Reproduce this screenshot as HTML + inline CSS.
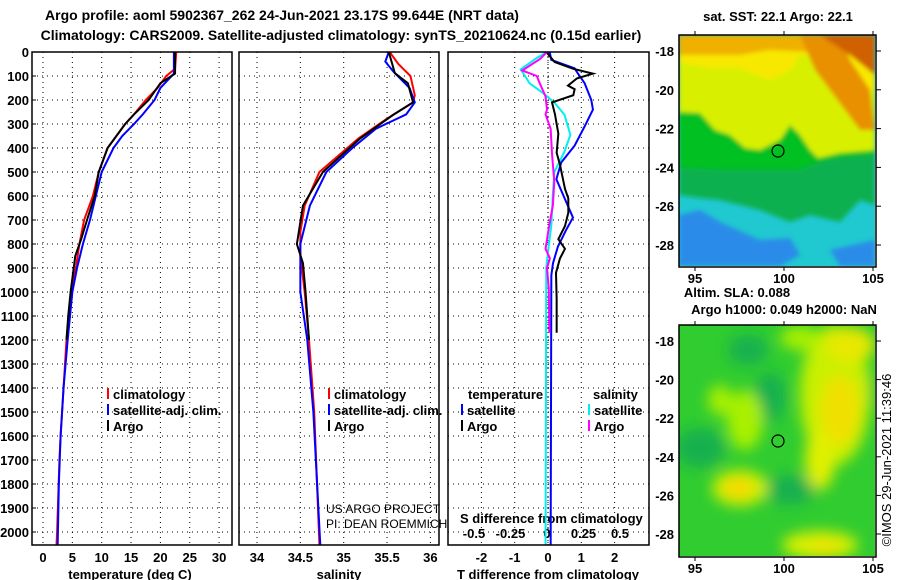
<!DOCTYPE html>
<html><head><meta charset="utf-8"><style>
body{margin:0;background:#fff;}
svg{display:block;font-family:"Liberation Sans",sans-serif;}
.t{font-size:14px;font-weight:bold;}
.tk{font-size:13px;font-weight:bold;}
.lg{font-size:13px;font-weight:bold;}
</style></head><body>
<svg id="fig" width="900" height="580" viewBox="0 0 900 580">
<text class="t" x="282" y="20" text-anchor="middle">Argo profile: aoml 5902367_262 24-Jun-2021 23.17S 99.644E (NRT data)</text>
<text class="t" x="341" y="40" text-anchor="middle">Climatology: CARS2009. Satellite-adjusted climatology: synTS_20210624.nc (0.15d earlier)</text>
<g id="p1"></g>
<g id="p2"></g>
<g id="p3"></g>

<g>
<defs><clipPath id="c1"><rect x="679" y="35" width="196" height="231"/></clipPath>
<clipPath id="c2"><rect x="679" y="325" width="196" height="231"/></clipPath>
<filter id="bl"><feGaussianBlur stdDeviation="7"/></filter>
<filter id="bs"><feGaussianBlur stdDeviation="2"/></filter></defs>
<g clip-path="url(#c1)">
<rect x="679" y="35" width="196" height="231" fill="#20c8d0"/>
<g filter="url(#bs)">
<polygon points="679,215 700,210 720,222 760,240 790,238 800,255 780,266 679,266" fill="#2a8ce8"/>
<polygon points="830,250 875,240 875,266 840,266" fill="#2a8ce8"/>
<polygon points="679,35 875,35 875,205 860,200 840,222 810,215 790,222 760,210 720,200 700,198 679,195" fill="#10b050"/>
<polygon points="679,35 875,35 875,155 840,158 820,162 800,170 760,170 720,170 679,168" fill="#00c020"/>
<polygon points="679,35 875,35 875,150 840,153 818,158 810,150 800,135 790,125 780,140 760,150 745,148 730,135 715,130 700,113 679,112" fill="#d8f000"/>
<polygon points="679,35 875,35 875,92 850,88 830,70 815,55 800,55 790,70 770,80 740,68 710,68 679,62" fill="#f8e800"/>
<polygon points="679,35 875,35 875,50 850,52 830,50 810,52 770,50 740,55 679,55" fill="#f0b000"/>
<polygon points="800,35 840,35 850,60 870,90 875,130 860,130 845,110 830,90 815,70" fill="#e89000"/>
<polygon points="820,35 875,35 875,75 850,55" fill="#d06000"/>
</g>
</g>
<circle cx="778" cy="151" r="6" fill="none" stroke="#000" stroke-width="1.2"/>
<rect x="679" y="35" width="197" height="232" fill="none" stroke="#000" stroke-width="1.5"/>
</g>
<text class="tk" x="778" y="21" text-anchor="middle">sat. SST: 22.1 Argo: 22.1</text>
<text class="tk" x="737" y="297" text-anchor="middle">Altim. SLA: 0.088</text>
<text class="tk" x="784" y="314" text-anchor="middle">Argo h1000: 0.049 h2000: NaN</text>

<g>
<g clip-path="url(#c2)">
<rect x="679" y="325" width="196" height="231" fill="#30cc30"/>
<g filter="url(#bl)">
<ellipse cx="700" cy="448" rx="25" ry="20" fill="#18b050"/>
<ellipse cx="770" cy="397" rx="16" ry="25" fill="#18b050"/>
<ellipse cx="748" cy="350" rx="20" ry="15" fill="#18b050"/>
<ellipse cx="790" cy="490" rx="25" ry="15" fill="#18b050"/>
<ellipse cx="868" cy="390" rx="12" ry="18" fill="#10c030"/>
<ellipse cx="745" cy="420" rx="18" ry="30" fill="#a8f000"/>
<ellipse cx="720" cy="400" rx="12" ry="15" fill="#a8f000"/>
<ellipse cx="835" cy="395" rx="35" ry="70" fill="#c8f000"/>
<ellipse cx="840" cy="410" rx="20" ry="35" fill="#f0e000"/>
<ellipse cx="850" cy="345" rx="25" ry="18" fill="#e8e800"/>
<ellipse cx="820" cy="460" rx="15" ry="30" fill="#e0f000"/>
<ellipse cx="740" cy="488" rx="28" ry="18" fill="#d0f000"/>
<ellipse cx="738" cy="488" rx="15" ry="10" fill="#f8d800"/>
<ellipse cx="820" cy="545" rx="38" ry="14" fill="#d8f000"/>
<ellipse cx="825" cy="548" rx="15" ry="7" fill="#f0e000"/>
<ellipse cx="800" cy="338" rx="20" ry="12" fill="#a8f000"/>
</g>
</g>
<circle cx="778" cy="441" r="6" fill="#30cc30" stroke="#000" stroke-width="1.2"/>
<rect x="679" y="325" width="197" height="232" fill="none" stroke="#000" stroke-width="1.5"/>
</g>
<text x="893" y="460" font-size="13" text-anchor="middle" transform="rotate(-90 893 460)" dy="-2">©IMOS 29-Jun-2021 11:39:46</text>
<g id="maplabels"></g>
</svg>
<script>
const tArgoDepth=[0,90,130,200,260,300,350,400,500,600,700,780,850,1000,1100,1200];
const tArgoVal=[22.5,22.5,20,18,15.5,14,12.5,11,9.5,8.8,7.5,6.5,5.5,4.7,4.3,4.0];
const tClimDepth=[0,70,100,150,200,260,300,400,500,600,700,800,900,1000,1200,1400,1600,1700,2000,2054];
const tClimVal=[22.7,22.5,21,19.5,17.5,15.5,14,11,9.5,8.5,7,6.2,5.6,4.8,4.0,3.5,3.0,2.8,2.4,2.3];
const tSatDepth=[0,90,150,200,260,300,350,400,500,600,700,800,900,1000,1200,1400,1600,1800,2054];
const tSatVal=[22.3,22.3,20,19,17,15.5,13.5,12,10,9,8,6.8,5.8,5.0,4.2,3.5,3.0,2.7,2.5];
const sArgoDepth=[0,88,130,210,262,360,500,640,800,880,1000,1200];
const sArgoVal=[35.52,35.59,35.74,35.80,35.57,35.19,34.76,34.53,34.46,34.53,34.56,34.6];
const sClimDepth=[0,50,100,180,210,280,360,500,640,750,850,1000,1200,1500,2054];
const sClimVal=[35.53,35.63,35.77,35.82,35.80,35.49,35.17,34.72,34.55,34.5,34.5,34.55,34.6,34.66,34.72];
const sSatDepth=[0,40,80,150,210,260,320,400,500,640,800,1000,1200,1500,2054];
const sSatVal=[35.52,35.48,35.57,35.76,35.82,35.72,35.37,35.10,34.80,34.61,34.5,34.5,34.58,34.65,34.73];
const dtArgoDepth=[0,42,70,90,110,140,155,180,210,260,340,420,470,570,610,670,725,780,820,860,920,1030,1140,1170];
const dtArgoVal=[-0.05,0.2,0.76,1.35,0.87,0.6,0.8,0.76,0.12,0.21,0.31,0.26,0.36,0.51,0.61,0.61,0.51,0.31,0.51,0.36,0.24,0.26,0.26,0.26];
const dtSatDepth=[0,33,68,90,130,200,240,310,390,460,530,610,690,740,810,880,930,2054];
const dtSatVal=[0.05,0.1,0.8,0.9,1.1,1.3,1.35,1.1,0.8,0.4,0.25,0.5,0.75,0.55,0.3,0.15,0.1,0.08];
const dsSatDepth=[0,25,72,130,170,210,262,345,415,500,595,720,830,900,2054];
const dsSatVal=[0,-0.07,-0.18,-0.12,-0.03,0.05,0.12,0.16,0.12,0.05,0.04,0.03,0.007,-0.005,-0.01];
const dsArgoDepth=[0,30,77,100,130,185,240,260,320,430,540,640,720,820,860,900,985,1150,1170];
const dsArgoVal=[0,-0.05,-0.17,-0.07,-0.05,-0.01,0,-0.01,0.025,0.035,0.05,0.04,0.016,-0.01,0.02,0,0.012,0.016,0.016];
const depthTicks=[0,100,200,300,400,500,600,700,800,900,1000,1100,1200,1300,1400,1500,1600,1700,1800,1900,2000];
const tTicks=[0,5,10,15,20,25,30];
const sTicks=[34,34.5,35,35.5,36];
const dtTicks=[-2,-1,0,1,2];
const dsTicks=[-0.5,-0.25,0,0.25,0.5];
const lonTicks=[95,100,105];
const latTicks=[-18,-20,-22,-24,-26,-28];

const NS="http://www.w3.org/2000/svg";
const Y=d=>52+0.24*d;
const XT=v=>43+5.87*v, XS=v=>257+86.7*(v-34), XDT=v=>548+33.3*v, XDS=v=>547+146*v;
function el(p,tag,at,txt){const e=document.createElementNS(NS,tag);for(const k in at)e.setAttribute(k,at[k]);if(txt!=null)e.textContent=txt;p.appendChild(e);return e;}
function panel(g,x0,x1,xs,xt,xf){
  depthTicks.forEach(d=>{if(d>0)el(g,'line',{x1:x0,x2:x1,y1:Y(d),y2:Y(d),stroke:'#000','stroke-dasharray':'1 4'});});
  xt.forEach(v=>{el(g,'line',{x1:xf(v),x2:xf(v),y1:52,y2:545,stroke:'#000','stroke-dasharray':'1 4'});});
}
function line(g,xs,ds,fx,col,name){
  const l=el(g,'polyline',{points:ds.map((d,i)=>fx(xs[i])+','+Y(d)).join(' '),fill:'none',stroke:col,'stroke-width':2});
  
  
}
function frame(g,x0,x1){el(g,'rect',{x:x0,y:52,width:x1-x0,height:493,fill:'none',stroke:'#000','stroke-width':1.5});}
function lbl(g,x,y,t,cls,anchor,name){const e=el(g,'text',{x:x,y:y,class:cls,'text-anchor':anchor||'start'},t);
  
  return e;}
function leg(g,x,y,col,t,name){el(g,'rect',{x:x-1,y:y-11,width:2,height:11,fill:col});lbl(g,x+5,y,t,'lg','start',name);}

const p1=document.getElementById('p1'),p2=document.getElementById('p2'),p3=document.getElementById('p3');
panel(p1,32,232,null,tTicks,XT);
depthTicks.forEach(d=>{lbl(p1,29,Y(d)+5,String(d),'tk','end','depth-tick-label');el(p1,'line',{x1:32,x2:36,y1:Y(d),y2:Y(d),stroke:'#000'});});
tTicks.forEach(v=>lbl(p1,XT(v),562,String(v),'tk','middle','temperature-tick-label'));
lbl(p1,130,579,'temperature (deg C)','tk','middle','temperature-axis-title');
line(p1,tClimVal,tClimDepth,XT,'#f00','climatology-temperature-line');
line(p1,tSatVal,tSatDepth,XT,'#00f','satellite-temperature-line');
line(p1,tArgoVal,tArgoDepth,XT,'#000','argo-temperature-line');
frame(p1,32,232);
leg(p1,108,399,'#f00','climatology','legend-climatology');
leg(p1,108,415,'#00f','satellite-adj. clim.','legend-satellite');
leg(p1,108,431,'#000','Argo','legend-argo');

panel(p2,239,439,null,sTicks,XS);
sTicks.forEach(v=>lbl(p2,XS(v),562,String(v),'tk','middle','salinity-tick-label'));
lbl(p2,339,579,'salinity','tk','middle','salinity-axis-title');
line(p2,sClimVal,sClimDepth,XS,'#f00','climatology-salinity-line');
line(p2,sSatVal,sSatDepth,XS,'#00f','satellite-salinity-line');
line(p2,sArgoVal,sArgoDepth,XS,'#000','argo-salinity-line');
frame(p2,239,439);
leg(p2,329,399,'#f00','climatology','legend-climatology');
leg(p2,329,415,'#00f','satellite-adj. clim.','legend-satellite');
leg(p2,329,431,'#000','Argo','legend-argo');
el(p2,'text',{x:326,y:513,'font-size':12},'US ARGO PROJECT');
el(p2,'text',{x:326,y:528,'font-size':12},'PI: DEAN ROEMMICH');

panel(p3,448,649,null,dtTicks,XDT);
dtTicks.forEach(v=>lbl(p3,XDT(v),562,String(v),'tk','middle','t-diff-tick-label'));
dsTicks.forEach(v=>lbl(p3,XDS(v),538,String(v),'tk','middle','s-diff-tick-label'));
lbl(p3,548,579,'T difference from climatology','tk','middle','t-diff-axis-title');
lbl(p3,460,523,'S difference from climatology','tk','start','s-diff-axis-title');
el(p3,'line',{x1:548,x2:548,y1:52,y2:545,stroke:'#000','stroke-dasharray':'1 3'});
line(p3,dsSatVal,dsSatDepth,XDS,'#00f0f0','satellite-salinity-diff-line');
line(p3,dtSatVal,dtSatDepth,XDT,'#00f','satellite-temperature-diff-line');
line(p3,dtArgoVal,dtArgoDepth,XDT,'#000','argo-temperature-diff-line');
line(p3,dsArgoVal,dsArgoDepth,XDS,'#f0f','argo-salinity-diff-line');
frame(p3,448,649);
lbl(p3,468,399,'temperature','lg','start','legend-temperature-header');
lbl(p3,593,399,'salinity','lg','start','legend-salinity-header');
leg(p3,462,415,'#00f','satellite','legend-t-satellite');
leg(p3,462,431,'#000','Argo','legend-t-argo');
leg(p3,589,415,'#00f0f0','satellite','legend-s-satellite');
leg(p3,589,431,'#f0f','Argo','legend-s-argo');

const ml=document.getElementById('maplabels');
const LX=v=>695+17.8*(v-95);
[[35,267,51,19.4,277],[325,557,341,19.3,567]].forEach(([top,bot,y18,dy,ly])=>{
  lonTicks.forEach(v=>{lbl(ml,LX(v),ly+6,String(v),'tk','middle','longitude-tick-label');
    el(ml,'line',{x1:LX(v),x2:LX(v),y1:top-4,y2:top,stroke:'#000'});el(ml,'line',{x1:LX(v),x2:LX(v),y1:bot,y2:bot+4,stroke:'#000'});});
  latTicks.forEach(v=>{const yy=y18+dy*((-v)-18);
    lbl(ml,674,yy+5,String(v),'tk','end','latitude-tick-label');
    el(ml,'line',{x1:876,x2:881,y1:yy,y2:yy,stroke:'#000'});});
});
</script>
</body></html>
